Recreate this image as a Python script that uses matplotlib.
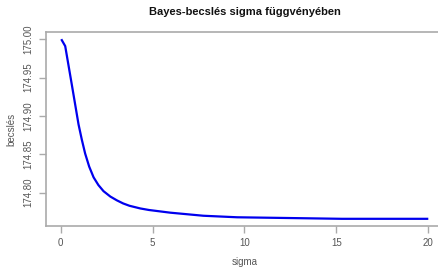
import matplotlib
matplotlib.use("Agg")
import matplotlib.pyplot as plt

plt.rcParams['font.family'] = ['Liberation Sans', 'DejaVu Sans']

sigma = [0.03, 0.245, 0.61, 0.97, 1.15, 1.33, 1.55, 1.79, 2.05, 2.33, 2.7, 3.06, 3.4,
         3.74, 4.33, 4.8, 5.96, 7.76, 9.6, 12.5, 15.3, 20.0]
becsles = [175.000, 174.991, 174.940, 174.889, 174.869, 174.851, 174.834, 174.820,
           174.810, 174.802, 174.795, 174.790, 174.786, 174.783, 174.7795, 174.7775,
           174.774, 174.770, 174.768, 174.767, 174.766, 174.766]
xticks = [0, 5, 10, 15, 20]
yticks = [174.80, 174.85, 174.90, 174.95, 175.00]
ytick_labels = ["174.80", "174.85", "174.90", "174.95", "175.00"]

fig = plt.figure(figsize=(4.39, 2.67), dpi=100)
ax = fig.add_axes([46/439, 41/267, 397/439, 194/267])

ax.plot(sigma, becsles, color='#0000ee', lw=1.6, solid_capstyle='butt',
        solid_joinstyle='round')

xmin, xmax = 0, 20
pad_x = 0.04 * (xmax - xmin)
ax.set_xlim(xmin - pad_x, xmax + pad_x)
ymin, ymax = min(becsles), max(becsles)
pad_y = 0.04 * (ymax - ymin)
ax.set_ylim(ymin - pad_y, ymax + pad_y)

ax.set_xticks(xticks)
ax.set_yticks(yticks)
ax.set_yticklabels(ytick_labels, rotation=90, va='center')

grey = '#aaaaaa'
txt = '#555555'
for sp in ax.spines.values():
    sp.set_color(grey)
    sp.set_linewidth(1.2)
ax.tick_params(direction='out', length=5, width=1, color=grey, labelcolor=txt,
               labelsize=7, pad=4)

ax.set_title("Bayes-becslés sigma függvényében", fontsize=8, fontweight='bold',
             color='#111111', pad=12)
ax.set_xlabel("sigma", fontsize=7, color=txt, labelpad=6)
ax.set_ylabel("becslés", fontsize=7, color=txt, labelpad=5)

fig.savefig("out.png", dpi=100)
